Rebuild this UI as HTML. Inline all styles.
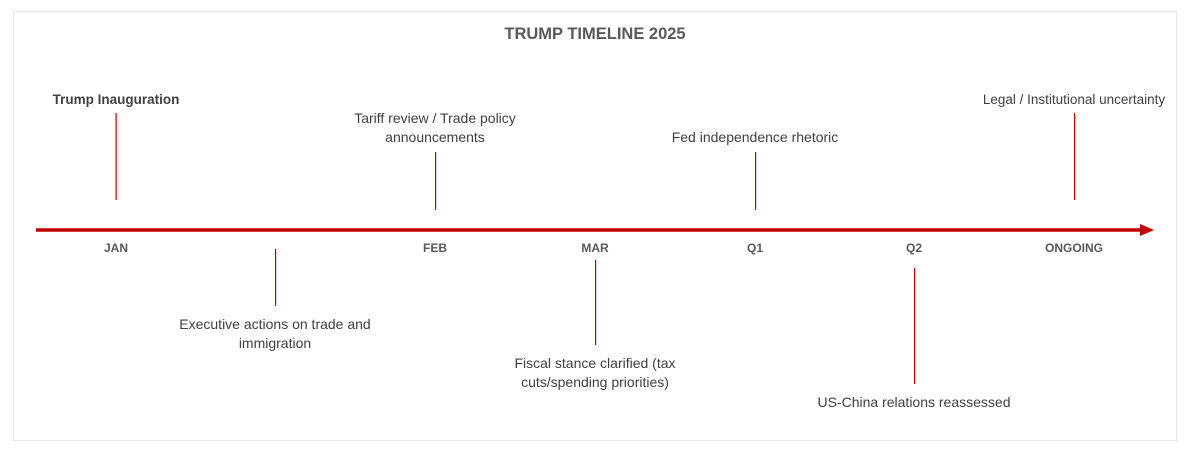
<!DOCTYPE html>
<html><head><style>
html,body{margin:0;padding:0;background:#fff;}
svg{display:block;font-family:"Liberation Sans",Arial,sans-serif;}
</style></head><body>
<svg width="1193" height="454" viewBox="0 0 1193 454">
<rect x="13.5" y="11.5" width="1163" height="429" fill="#fff" stroke="#e6e6e6"/>
<text x="595" y="39" text-anchor="middle" font-size="16.5" font-weight="bold" fill="#595959">TRUMP TIMELINE 2025</text>
<line x1="36" y1="230" x2="1142" y2="230" stroke="#c00000" stroke-width="3.5"/>
<polygon points="1140,224 1154,230 1140,236" fill="#c00000"/>
<g fill="#c00000">
<rect x="115.5" y="113" width="1.2" height="87"/>
<rect x="275" y="249" width="1.2" height="57"/>
<rect x="435" y="152" width="1.2" height="58"/>
<rect x="595" y="260" width="1.2" height="85"/>
<rect x="755" y="152" width="1.2" height="58"/>
<rect x="914" y="268" width="1.2" height="116"/>
<rect x="1074" y="113" width="1.2" height="87"/>
</g>
<g font-size="12" font-weight="bold" fill="#595959" text-anchor="middle">
<text x="116" y="252">JAN</text>
<text x="435" y="252">FEB</text>
<text x="595" y="252">MAR</text>
<text x="755" y="252">Q1</text>
<text x="914" y="252">Q2</text>
<text x="1074" y="252">ONGOING</text>
</g>
<g font-size="14" fill="#404040" text-anchor="middle">
<text x="116" y="104" font-weight="bold" font-size="13.5">Trump Inauguration</text>
<text x="435" y="123">Tariff review / Trade policy</text>
<text x="435" y="142">announcements</text>
<text x="755" y="142">Fed independence rhetoric</text>
<text x="1074" y="104" font-size="13.5">Legal / Institutional uncertainty</text>
<text x="275" y="329">Executive actions on trade and</text>
<text x="275" y="348">immigration</text>
<text x="595" y="368">Fiscal stance clarified (tax</text>
<text x="595" y="387">cuts/spending priorities)</text>
<text x="914" y="407">US-China relations reassessed</text>
</g>
</svg>
</body></html>
